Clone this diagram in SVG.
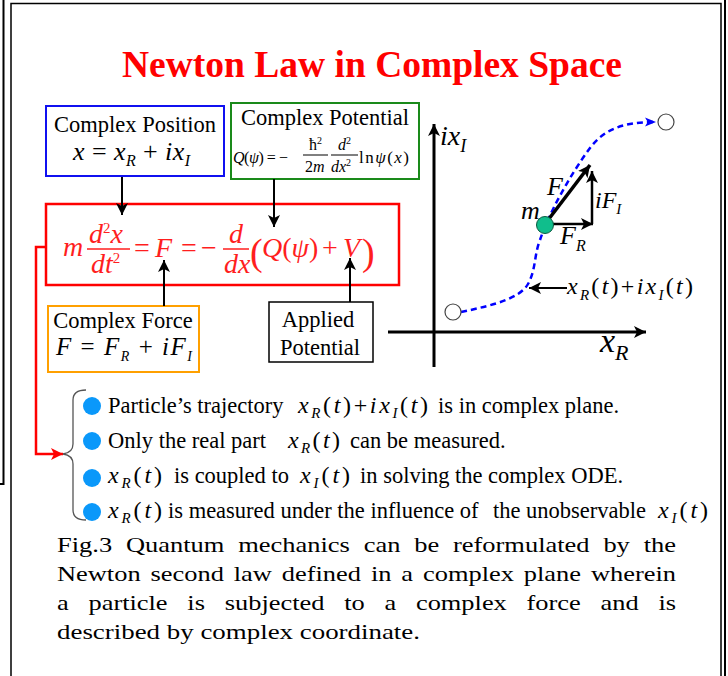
<svg xmlns="http://www.w3.org/2000/svg" width="728" height="676" viewBox="0 0 728 676">
<defs>
<style>
text{font-family:"Liberation Serif","Times New Roman",serif;fill:#000}
.lbl{font-size:22.5px}
.i{font-style:italic}
.eq text{fill:#FF1E1E;font-size:28px}
.bul text{font-size:22.5px}
.bul text.mt{font-size:24px}
.cap{font-size:22px}
.ar{stroke:#000;stroke-width:2;fill:none}
.dot{fill:#0A98FA}
</style>
<marker id="ah" viewBox="0 0 12 12" refX="12" refY="6" markerWidth="12" markerHeight="12" markerUnits="userSpaceOnUse" orient="auto"><path d="M0,0 L12,6 L0,12 L3,6 z" fill="#000"/></marker>
<marker id="ahr" viewBox="0 0 12 12" refX="12" refY="6" markerWidth="12" markerHeight="12" markerUnits="userSpaceOnUse" orient="auto"><path d="M0,0 L12,6 L0,12 L3,6 z" fill="#FF0000"/></marker>
<marker id="ahb" viewBox="0 0 12 12" refX="12" refY="6" markerWidth="11" markerHeight="11" markerUnits="userSpaceOnUse" orient="auto"><path d="M0,1 L12,6 L0,11 L3,6 z" fill="#0000FF"/></marker>
</defs>

<!-- frames -->
<path d="M0,484 H3.5 V0" stroke="#000" stroke-width="2" fill="none"/>
<path d="M11,676 V3.5 H721 V676" stroke="#000" stroke-width="1.5" fill="none"/>
<line x1="725" y1="0" x2="725" y2="676" stroke="#000" stroke-width="2"/>

<text x="372" y="77" text-anchor="middle" font-size="37.5" font-weight="bold" style="fill:#FF0000">Newton Law in Complex Space</text>

<g id="complex-position">
<rect x="46" y="106" width="178" height="70" fill="#fff" stroke="#1010F0" stroke-width="2"/>
<text class="lbl" x="135" y="132" text-anchor="middle">Complex Position</text>
<text x="73" y="160" font-size="26" textLength="117" lengthAdjust="spacing"><tspan class="i">x</tspan> = <tspan class="i">x</tspan><tspan class="i" font-size="16" dy="6">R</tspan><tspan dy="-6"> + </tspan><tspan class="i">ix</tspan><tspan class="i" font-size="16" dy="6">I</tspan></text>
</g>

<g id="complex-potential">
<rect x="231" y="103" width="188" height="76" fill="#fff" stroke="#1A8A1A" stroke-width="2"/>
<text class="lbl" x="325" y="125" text-anchor="middle">Complex Potential</text>
<text x="233" y="163" font-size="16" textLength="55" lengthAdjust="spacing"><tspan class="i">Q</tspan>(<tspan class="i">ψ</tspan>) = −</text>
<text x="309" y="150" font-size="16">ħ<tspan font-size="10" dy="-6">2</tspan></text>
<line x1="303" y1="155" x2="328" y2="155" stroke="#000" stroke-width="1"/>
<text x="305" y="172" font-size="16">2<tspan class="i">m</tspan></text>
<text x="338" y="150" font-size="16" class="i">d<tspan font-size="10" dy="-6" style="font-style:normal">2</tspan></text>
<line x1="331" y1="155" x2="358" y2="155" stroke="#000" stroke-width="1"/>
<text x="331" y="172" font-size="16"><tspan class="i">dx</tspan><tspan font-size="10" dy="-6">2</tspan></text>
<text x="359" y="163" font-size="17" textLength="50" lengthAdjust="spacing">ln<tspan class="i">ψ</tspan>(<tspan class="i">x</tspan>)</text>
</g>

<g id="newton-equation" class="eq">
<rect x="46" y="204" width="353" height="81" fill="none" stroke="#FF0000" stroke-width="2.5"/>
<text x="63" y="256" class="i">m</text>
<text x="89" y="243"><tspan class="i">d</tspan><tspan font-size="15" dy="-10">2</tspan><tspan class="i" dy="10">x</tspan></text>
<line x1="87" y1="249" x2="130" y2="249" stroke="#FF1E1E" stroke-width="1.5"/>
<text x="91" y="273"><tspan class="i">dt</tspan><tspan font-size="15" dy="-10">2</tspan></text>
<text x="134" y="257">=</text>
<text x="155" y="257" class="i">F</text>
<text x="181" y="257">=</text>
<text x="201" y="257">−</text>
<text x="229" y="243" class="i">d</text>
<line x1="223" y1="249" x2="249" y2="249" stroke="#FF1E1E" stroke-width="1.5"/>
<text x="224" y="273" class="i">dx</text>
<text x="250" y="265" style="font-size:38px">(</text>
<text x="262" y="257"><tspan class="i">Q</tspan>(<tspan class="i">ψ</tspan>)</text>
<text x="322" y="257">+</text>
<text x="343" y="257" class="i">V</text>
<text x="362" y="265" style="font-size:38px">)</text>
</g>

<g id="complex-force">
<rect x="48" y="306" width="151" height="66" fill="#fff" stroke="#FFA000" stroke-width="2"/>
<text class="lbl" x="123" y="328" text-anchor="middle">Complex Force</text>
<text x="56" y="355" font-size="25" textLength="136" lengthAdjust="spacing"><tspan class="i">F</tspan> = <tspan class="i">F</tspan><tspan class="i" font-size="14" dy="6">R</tspan><tspan dy="-6"> + </tspan><tspan class="i">iF</tspan><tspan class="i" font-size="14" dy="6">I</tspan></text>
</g>

<g id="applied-potential">
<rect x="269" y="302" width="104" height="60" fill="#fff" stroke="#000" stroke-width="1.5"/>
<text class="lbl" x="318" y="327" text-anchor="middle">Applied</text>
<text class="lbl" x="320" y="355" text-anchor="middle">Potential</text>
</g>

<g id="connectors">
<line class="ar" x1="122" y1="177" x2="122" y2="215" marker-end="url(#ah)"/>
<line class="ar" x1="274" y1="179" x2="274" y2="227" marker-end="url(#ah)"/>
<line class="ar" x1="164" y1="306" x2="164" y2="260" marker-end="url(#ah)"/>
<line class="ar" x1="350" y1="302" x2="350" y2="258" marker-end="url(#ah)"/>
<path d="M46,247 H36 V454 H63" stroke="#FF0000" stroke-width="2.5" fill="none" marker-end="url(#ahr)"/>
</g>

<g id="complex-plane">
<line x1="434" y1="367" x2="434" y2="124" stroke="#000" stroke-width="3" marker-end="url(#ah)"/>
<line x1="388" y1="332" x2="646" y2="332" stroke="#000" stroke-width="3" marker-end="url(#ah)"/>
<text x="440" y="145" font-size="28" class="i">ix<tspan font-size="18" dy="7">I</tspan></text>
<text x="600" y="352" font-size="34" class="i">x<tspan font-size="22" dy="8">R</tspan></text>
<path d="M461,312 C495,305 520,298 528,284 C536,270 534,255 540,240 C548,215 570,175 590,148 C605,128 625,122 656,122" stroke="#0000FF" stroke-width="2.5" stroke-dasharray="6,4" fill="none" marker-end="url(#ahb)"/>
<circle cx="453" cy="312" r="8" fill="#fff" stroke="#444" stroke-width="1.2"/>
<circle cx="666" cy="122" r="8" fill="#fff" stroke="#444" stroke-width="1.2"/>
<line x1="545" y1="224" x2="590" y2="165" stroke="#000" stroke-width="3.5" marker-end="url(#ah)"/>
<line x1="592" y1="224" x2="592" y2="171" stroke="#000" stroke-width="2.5" marker-end="url(#ah)"/>
<line x1="545" y1="224" x2="593" y2="224" stroke="#000" stroke-width="2.5" marker-end="url(#ah)"/>
<circle cx="545" cy="225" r="8.5" fill="#10BE8C" stroke="#0A5A40" stroke-width="1"/>
<text x="521" y="219" font-size="26" class="i">m</text>
<text x="547" y="195" font-size="26" class="i">F</text>
<text x="595" y="208" font-size="24" class="i">iF<tspan font-size="15" dy="6">I</tspan></text>
<text x="560" y="244" font-size="26" class="i">F<tspan font-size="16" dy="7">R</tspan></text>
<line x1="567" y1="288" x2="529" y2="288" stroke="#000" stroke-width="2" marker-end="url(#ah)"/>
<text x="567" y="294" font-size="24" textLength="126" lengthAdjust="spacing"><tspan class="i">x</tspan><tspan class="i" font-size="15" dy="6">R</tspan><tspan dy="-6">(</tspan><tspan class="i">t</tspan>)+<tspan class="i">ix</tspan><tspan class="i" font-size="15" dy="6">I</tspan><tspan dy="-6">(</tspan><tspan class="i">t</tspan>)</text>
</g>

<g id="bullets" class="bul">
<path d="M86,390 C77,390 73,393 73,400 V444 C73,450 70,453 63,454 C70,455 73,458 73,464 V510 C73,517 77,520 86,520" stroke="#555" stroke-width="1.3" fill="none"/>
<circle class="dot" cx="92" cy="406" r="9"/>
<circle class="dot" cx="92" cy="441" r="9"/>
<circle class="dot" cx="92" cy="478" r="9"/>
<circle class="dot" cx="92" cy="512" r="9"/>
<text x="108" y="413">Particle’s trajectory</text>
<text class="mt" x="298" y="413" textLength="130" lengthAdjust="spacing"><tspan class="i">x</tspan><tspan class="i" font-size="15" dy="5">R</tspan><tspan dy="-5">(</tspan><tspan class="i">t</tspan>)+<tspan class="i">ix</tspan><tspan class="i" font-size="15" dy="5">I</tspan><tspan dy="-5">(</tspan><tspan class="i">t</tspan>)</text>
<text x="438" y="413">is in complex plane.</text>
<text x="108" y="448">Only the real part</text>
<text class="mt" x="288" y="448" textLength="52" lengthAdjust="spacing"><tspan class="i">x</tspan><tspan class="i" font-size="15" dy="5">R</tspan><tspan dy="-5">(</tspan><tspan class="i">t</tspan>)</text>
<text x="350" y="448">can be measured.</text>
<text class="mt" x="108" y="483" textLength="54" lengthAdjust="spacing"><tspan class="i">x</tspan><tspan class="i" font-size="15" dy="5">R</tspan><tspan dy="-5">(</tspan><tspan class="i">t</tspan>)</text>
<text x="174" y="483">is coupled to</text>
<text class="mt" x="300" y="483" textLength="50" lengthAdjust="spacing"><tspan class="i">x</tspan><tspan class="i" font-size="15" dy="5">I</tspan><tspan dy="-5">(</tspan><tspan class="i">t</tspan>)</text>
<text x="360" y="483">in solving the complex ODE.</text>
<text class="mt" x="108" y="518" textLength="54" lengthAdjust="spacing"><tspan class="i">x</tspan><tspan class="i" font-size="15" dy="5">R</tspan><tspan dy="-5">(</tspan><tspan class="i">t</tspan>)</text>
<text x="168" y="518">is measured under the influence of</text>
<text x="493" y="518">the unobservable</text>
<text class="mt" x="658" y="518" textLength="50" lengthAdjust="spacing"><tspan class="i">x</tspan><tspan class="i" font-size="15" dy="5">I</tspan><tspan dy="-5">(</tspan><tspan class="i">t</tspan>)</text>
</g>

<g id="caption" class="cap">
<text x="57" y="552" textLength="619" lengthAdjust="spacingAndGlyphs" word-spacing="6">Fig.3 Quantum mechanics can be reformulated by the</text>
<text x="57" y="581" textLength="619" lengthAdjust="spacingAndGlyphs" word-spacing="2.75">Newton second law defined in a complex plane wherein</text>
<text x="57" y="610" textLength="619" lengthAdjust="spacingAndGlyphs" word-spacing="11">a particle is subjected to a complex force and is</text>
<text x="57" y="639" textLength="363" lengthAdjust="spacingAndGlyphs">described by complex coordinate.</text>
</g>
</svg>
